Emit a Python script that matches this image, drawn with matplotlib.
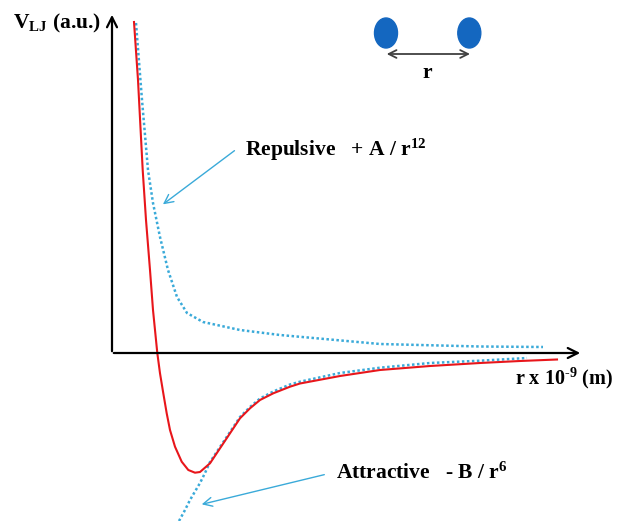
import matplotlib
matplotlib.use('Agg')
import matplotlib.pyplot as plt
from matplotlib.patches import Ellipse

plt.rcParams['font.family'] = ['Liberation Serif', 'DejaVu Serif']
plt.rcParams['mathtext.fontset'] = 'custom'
plt.rcParams['mathtext.rm'] = 'Liberation Serif:bold'
plt.rcParams['mathtext.it'] = 'Liberation Serif:bold'
plt.rcParams['mathtext.bf'] = 'Liberation Serif:bold'

# Lennard-Jones potential (arbitrary units)
r_lj = [0.22, 0.26, 0.307, 0.34, 0.38, 0.41, 0.44, 0.453, 0.48, 0.513, 0.547, 0.58,
        0.63, 0.697, 0.763, 0.83, 0.88, 0.98, 1.08, 1.18, 1.28, 1.38, 1.48, 1.613,
        1.78, 1.88, 2.28, 2.68, 3.18, 3.68, 4.08, 4.45]
v_lj = [3.31, 2.73, 1.83, 1.33, 0.83, 0.43, 0.13, 0.0, -0.203, -0.403, -0.603, -0.77,
        -0.937, -1.087, -1.17, -1.197, -1.19, -1.103, -0.953, -0.803, -0.653, -0.553, -0.47, -0.403,
        -0.337, -0.305, -0.23, -0.17, -0.13, -0.10, -0.08, -0.065]

# repulsive term +A/r^12
r_rep = [0.24, 0.30, 0.36, 0.41, 0.48, 0.56, 0.65, 0.75, 0.91, 1.28, 1.68, 2.68, 3.68, 4.31]
v_rep = [3.30, 2.53, 1.83, 1.50, 1.16, 0.83, 0.56, 0.40, 0.31, 0.23, 0.18, 0.09, 0.065, 0.06]

# attractive term -B/r^6
r_att = [0.67, 0.73, 0.78, 0.88, 0.93, 0.98, 1.08, 1.18, 1.28, 1.38, 1.48, 1.613, 1.78, 1.88,
         2.28, 2.68, 3.18, 3.68, 4.15]
v_att = [-1.68, -1.57, -1.47, -1.30, -1.20, -1.09, -0.94, -0.79, -0.64, -0.54, -0.455, -0.385, -0.315, -0.287,
         -0.20, -0.147, -0.10, -0.077, -0.05]

red = '#e8161b'
cyan = '#3aaad9'
bold = dict(fontsize=15.5, fontweight='bold', color='black')

fig = plt.figure(figsize=(6.17, 5.21), dpi=100)
ax = fig.add_axes([0, 0, 1, 1])
ax.set_xlim(-1.12, 5.05)
ax.set_ylim(-1.68, 3.53)
ax.axis('off')

# axes with arrows
ax.annotate('', xy=(0, 3.41), xytext=(0, -0.01),
            arrowprops=dict(arrowstyle='->', lw=1.6, color='black', mutation_scale=18))
ax.annotate('', xy=(4.71, 0), xytext=(-0.01, 0),
            arrowprops=dict(arrowstyle='->', lw=1.6, color='black', mutation_scale=18))

ax.plot(r_rep, v_rep, color=cyan, lw=1.8, linestyle=(0, (1, 1)))
ax.plot(r_att, v_att, color=cyan, lw=1.8, linestyle=(0, (1, 1)))
ax.plot(r_lj, v_lj, color=red, lw=1.5, solid_joinstyle='round')

ax.text(-0.99, 3.30, r'V$_{LJ}$ (a.u.)', va='center', ha='left', **bold)
ax.text(4.03, -0.25, r'r x 10$^{\text{-9}}$ (m)', va='center', ha='left',
        fontsize=14.5, fontweight='bold', color='black')
ax.text(1.33, 2.03, r'Repulsive   + A / r$^{12}$', va='center', ha='left', **bold)
ax.text(2.24, -1.20, r'Attractive   - B / r$^{6}$', va='center', ha='left', **bold)

ax.annotate('', xy=(0.487, 1.47), xytext=(1.247, 2.04),
            arrowprops=dict(arrowstyle='->', lw=1.0, color=cyan, mutation_scale=16))
ax.annotate('', xy=(0.87, -1.52), xytext=(2.15, -1.21),
            arrowprops=dict(arrowstyle='->', lw=1.0, color=cyan, mutation_scale=16))

# two atoms with separation r
ax.add_patch(Ellipse((2.74, 3.20), 0.23, 0.30, color='#1467c0'))
ax.add_patch(Ellipse((3.573, 3.20), 0.23, 0.30, color='#1467c0'))
ax.annotate('', xy=(2.747, 2.99), xytext=(3.58, 2.99),
            arrowprops=dict(arrowstyle='<->', lw=1.3, color='#404040', mutation_scale=14,
                            shrinkA=0, shrinkB=0))
ax.text(3.15, 2.80, 'r', va='center', ha='center', **bold)

fig.savefig('out.png', dpi=100)
